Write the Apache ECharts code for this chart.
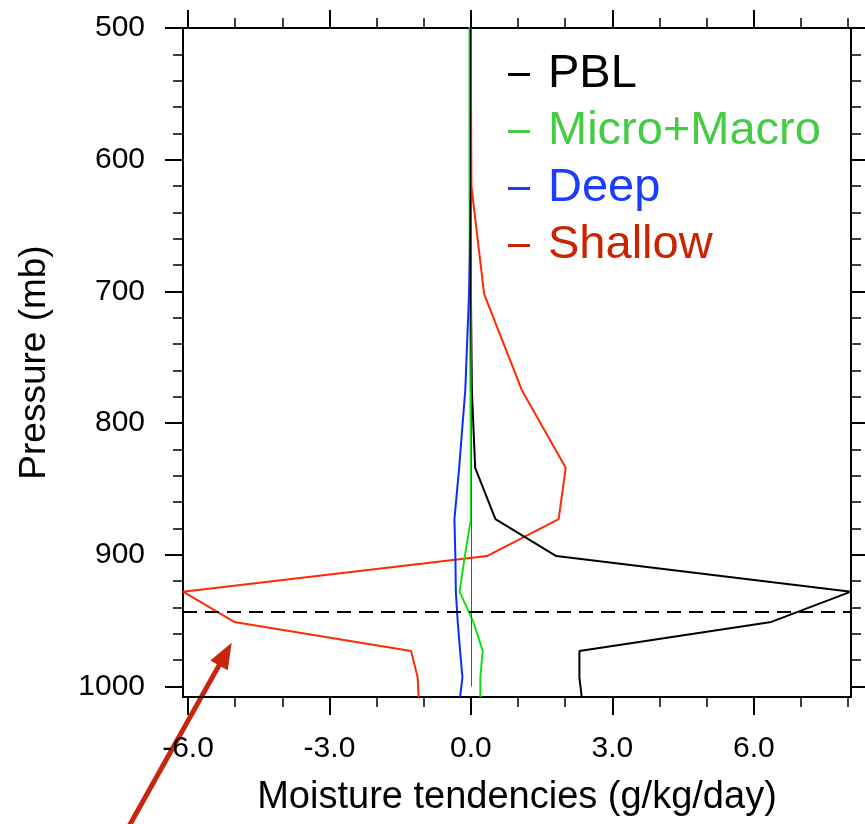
<!DOCTYPE html>
<html>
<head>
<meta charset="utf-8">
<script src="https://cdn.jsdelivr.net/npm/echarts@6/dist/echarts.min.js"></script>
<style>
  html, body { margin: 0; padding: 0; background: #fff; }
  #container { width: 865px; height: 824px; }
</style>
</head>
<body>
<div id="container"></div>
<script>
// model levels (mb) and tendencies (g/kg/day)
var levels     = [460, 536, 620, 702, 775, 834, 873, 901, 928, 951, 973, 993, 1008];
var pbl        = [0.0, 0.0, 0.0, 0.0, 0.02, 0.09, 0.52, 1.81, 8.06, 6.37, 2.30, 2.30, 2.35];
var microMacro = [-0.03, -0.03, -0.03, -0.02, -0.01, 0.0, 0.0, -0.13, -0.24, 0.05, 0.25, 0.20, 0.20];
var deep       = [0.0, 0.0, 0.0, -0.04, -0.12, -0.25, -0.35, -0.33, -0.32, -0.28, -0.23, -0.18, -0.23];
var shallow    = [0.0, 0.0, 0.01, 0.28, 1.08, 2.01, 1.86, 0.34, -6.106, -5.02, -1.27, -1.13, -1.11];

var xMajor = [-6, -3, 0, 3, 6];
var xMinor = [-5, -4, -2, -1, 1, 2, 4, 5, 7, 8];
var yMajor = [500, 600, 700, 800, 900, 1000];
var yMinor = [];
for (var p = 520; p < 1000; p += 20) { if (p % 100 !== 0) yMinor.push(p); }

var pblTop = 943;   // dashed line
var xMin = -6.106, xMax = 8.06, yMin = 500, yMax = 1008;

var FONT = 'Liberation Sans, Arial, Helvetica, sans-serif';

function pairs(vals) {
    return vals.map(function (v, i) { return [v, levels[i]]; });
}

function xAx(pos, ticks, len, width, labels) {
    return {
        type: 'value', position: pos, min: xMin, max: xMax,
        axisLine: { show: true, onZero: false, lineStyle: { color: '#000', width: 2 } },
        axisTick: { show: true, inside: false, length: len, customValues: ticks,
                    lineStyle: { color: '#000', width: width } },
        axisLabel: labels ? { show: true, customValues: ticks, margin: 37, fontSize: 30, color: '#000',
                    fontFamily: FONT, formatter: function (v) { return v.toFixed(1); } } : { show: false },
        splitLine: { show: false }
    };
}
function yAx(pos, ticks, len, width, labels) {
    return {
        type: 'value', position: pos, min: yMin, max: yMax, inverse: true,
        axisLine: { show: true, onZero: false, lineStyle: { color: '#000', width: 2 } },
        axisTick: { show: true, inside: false, length: len, customValues: ticks,
                    lineStyle: { color: '#000', width: width } },
        axisLabel: labels ? { show: true, customValues: ticks, margin: 38, fontSize: 30, color: '#000',
                    fontFamily: FONT, formatter: function (v) { return String(v); } } : { show: false },
        splitLine: { show: false }
    };
}

var xAxes = [xAx('bottom', xMajor, 18, 2, true), xAx('bottom', xMinor, 10, 1.5, false),
             xAx('top', xMajor, 18, 2, false), xAx('top', xMinor, 10, 1.5, false)];
xAxes[0].name = 'Moisture tendencies (g/kg/day)';
xAxes[0].nameLocation = 'middle';
xAxes[0].nameGap = 82;
xAxes[0].nameTextStyle = { fontSize: 38, color: '#000', fontFamily: FONT };

var yAxes = [yAx('left', yMajor, 18, 2, true), yAx('left', yMinor, 10, 1.5, false),
             yAx('right', yMajor, 18, 2, false), yAx('right', yMinor, 10, 1.5, false)];
yAxes[0].name = 'Pressure (mb)';
yAxes[0].nameLocation = 'middle';
yAxes[0].nameGap = 130;
yAxes[0].nameRotate = 90;
yAxes[0].nameTextStyle = { fontSize: 37, color: '#000', fontFamily: FONT };

function line(name, vals, color, z) {
    return {
        name: name, type: 'line', data: pairs(vals), symbol: 'none', silent: true,
        xAxisIndex: 0, yAxisIndex: 0, z: z,
        lineStyle: { color: color, width: 2 }, itemStyle: { color: color },
        animation: false
    };
}

var series = [
    line('PBL', pbl, '#000000', 4),
    line('Micro+Macro', microMacro, '#11e011', 3),
    line('Deep', deep, '#0a2cff', 3),
    line('Shallow', shallow, '#ff2a00', 2)
];
series[0].markLine = {
    silent: true, symbol: 'none', animation: false,
    label: { show: false },
    data: [
        [{ coord: [0, yMin], lineStyle: { color: '#555', width: 1, type: 'solid' } }, { coord: [0, 1000] }],
        [{ coord: [xMin, pblTop], lineStyle: { color: '#000', width: 2, type: [14, 8] } }, { coord: [xMax, pblTop] }]
    ]
};

// arrow annotation (pixel space)
var tip = [231.7, 642.7], tail = [128, 828];
var dx = tip[0] - tail[0], dy = tip[1] - tail[1], L = Math.sqrt(dx * dx + dy * dy);
var ux = dx / L, uy = dy / L, nx = -uy, ny = ux;
var hl = 26, hw = 10;
var base = [tip[0] - hl * ux, tip[1] - hl * uy];

var option = {
    backgroundColor: '#fff',
    animation: false,
    grid: { left: 183, right: 14, top: 28, bottom: 127, containLabel: false },
    xAxis: xAxes,
    yAxis: yAxes,
    legend: {
        orient: 'vertical', left: 508, top: 51, padding: 0,
        icon: 'rect', itemWidth: 22, itemHeight: 3, itemGap: 10,
        selectedMode: false,
        textStyle: { fontSize: 47, fontFamily: FONT, padding: [0, 0, 0, 13] },
        data: [
            { name: 'PBL', textStyle: { color: '#000000' }, itemStyle: { color: '#000000' } },
            { name: 'Micro+Macro', textStyle: { color: '#44cc44' }, itemStyle: { color: '#44cc44' } },
            { name: 'Deep', textStyle: { color: '#1a3cff' }, itemStyle: { color: '#1a3cff' } },
            { name: 'Shallow', textStyle: { color: '#cc2200' }, itemStyle: { color: '#cc2200' } }
        ]
    },
    graphic: [
        { type: 'line', silent: true,
          shape: { x1: tail[0], y1: tail[1], x2: base[0] + 2 * ux, y2: base[1] + 2 * uy },
          style: { stroke: '#c8250f', lineWidth: 5 } },
        { type: 'polygon', silent: true,
          shape: { points: [tip, [base[0] + hw * nx, base[1] + hw * ny], [base[0] - hw * nx, base[1] - hw * ny]] },
          style: { fill: '#c8250f' } }
    ],
    series: series
};

var myChart = echarts.init(document.getElementById('container'));
myChart.setOption(option);
</script>
</body>
</html>
